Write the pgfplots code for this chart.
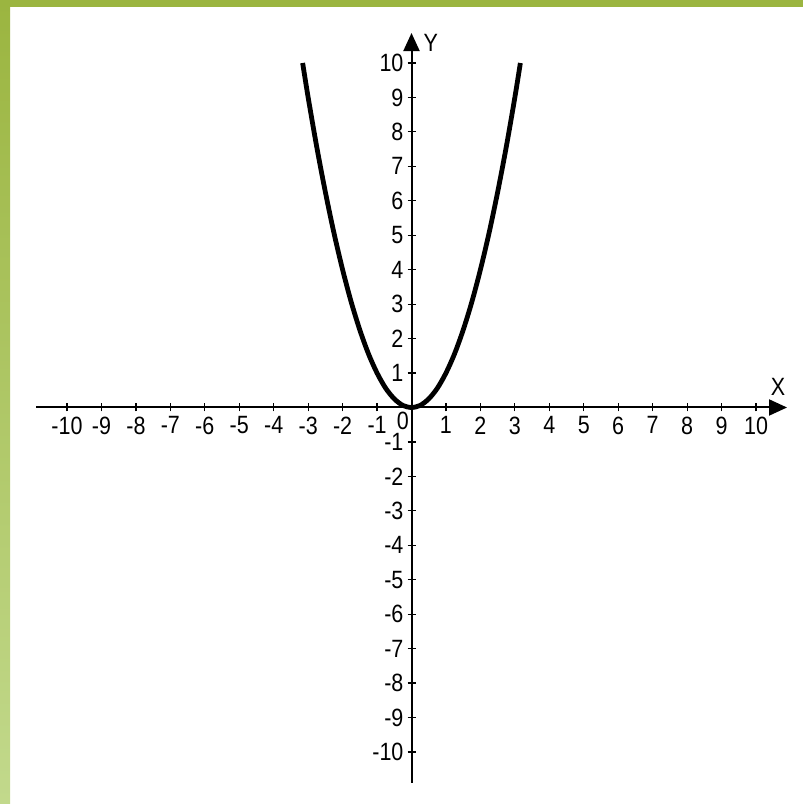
\documentclass[border=0pt]{standalone}
\usepackage{fontspec}
\setmainfont[FakeStretch=0.86]{Liberation Sans}
\usepackage{pgfplots}
\pgfplotsset{compat=1.18}
\usetikzlibrary{arrows.meta}

\definecolor{slidegreen}{HTML}{9BB540}
\definecolor{slidelight}{HTML}{C2D98C}

\begin{document}
\begin{tikzpicture}
    % slide background: white page with green top and left strips
    \fill[white] (0,0) rectangle (401.5pt,402pt);
    \shade[top color=slidegreen, bottom color=slidelight] (0,0) rectangle (5pt,402pt);
    \fill[slidegreen] (0,398.5pt) rectangle (401.5pt,402pt);

    \begin{axis}[
        at={(18pt,10.5pt)}, anchor=south west,
        x=17.225pt, y=17.225pt,
        xmin=-10.9, xmax=10.9,
        ymin=-10.9, ymax=10.87,
        axis lines=middle,
        axis line style={line width=1pt, -{Triangle[length=9pt,width=8pt]}},
        xtick={-10,-9,-8,-7,-6,-5,-4,-3,-2,-1,1,2,3,4,5,6,7,8,9,10},
        ytick={-10,-9,-8,-7,-6,-5,-4,-3,-2,-1,1,2,3,4,5,6,7,8,9,10},
        tick align=center,
        major tick length=4pt,
        tick style={black, line width=0.6pt},
        tick label style={font=\fontsize{12.5}{14}\selectfont},
        xticklabel style={yshift=1pt},
        yticklabel style={xshift=1.5pt},
        /pgf/number format/assume math mode=true,
        clip=false,
    ]
        % y = x^2
        \addplot[black, line width=2.4pt, smooth] coordinates {
            (-3.16,10) (-3,9) (-2.75,7.56) (-2.5,6.25) (-2.25,5.06)
            (-2,4) (-1.75,3.06) (-1.5,2.25) (-1.25,1.56) (-1,1)
            (-0.75,0.56) (-0.5,0.25) (-0.25,0.06) (0,0)
            (0.25,0.06) (0.5,0.25) (0.75,0.56) (1,1) (1.25,1.56)
            (1.5,2.25) (1.75,3.06) (2,4) (2.25,5.06) (2.5,6.25)
            (2.75,7.56) (3,9) (3.16,10)
        };
        \node[font=\fontsize{12.5}{14}\selectfont] at (axis cs:-0.25,-0.4) {0};
        \node[font=\fontsize{12.5}{14}\selectfont] at (axis cs:10.64,0.6) {X};
        \node[font=\fontsize{12.5}{14}\selectfont] at (axis cs:0.56,10.58) {Y};
    \end{axis}
\end{tikzpicture}
\end{document}
